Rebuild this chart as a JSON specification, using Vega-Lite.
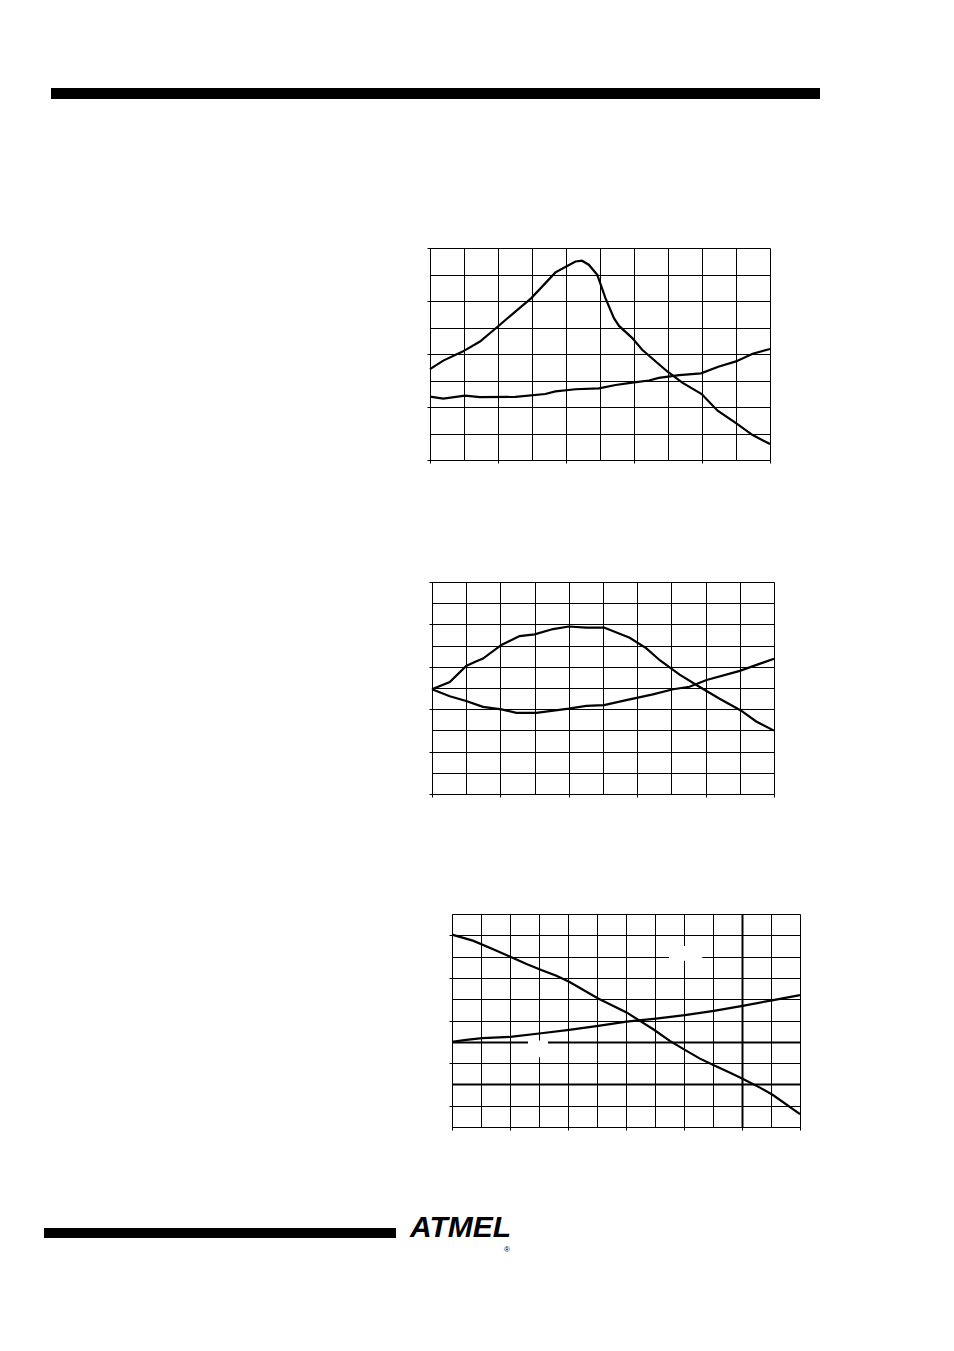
{
  "$schema": "https://vega.github.io/schema/vega-lite/v6.json",
  "padding": 0,
  "background": "white",
  "spacing": 0,
  "config": {
    "view": {"stroke": null},
    "axis": {"labels": false, "grid": true, "gridColor": "black", "gridOpacity": 1, "gridWidth": 1, "domainColor": "black", "domainWidth": 1, "tickColor": "black", "tickSize": 3, "tickWidth": 1}
  },
  "datasets": {
    "c1": [
      {"s": "A", "x": 0, "y": 3.43}, {"s": "A", "x": 0.39, "y": 3.75}, {"s": "A", "x": 0.96, "y": 4.09}, {"s": "A", "x": 1.47, "y": 4.47}, {"s": "A", "x": 1.97, "y": 5.01}, {"s": "A", "x": 2.51, "y": 5.6}, {"s": "A", "x": 2.98, "y": 6.11}, {"s": "A", "x": 3.69, "y": 7.08}, {"s": "A", "x": 3.98, "y": 7.28}, {"s": "A", "x": 4.28, "y": 7.49}, {"s": "A", "x": 4.47, "y": 7.52}, {"s": "A", "x": 4.67, "y": 7.37}, {"s": "A", "x": 4.92, "y": 6.99}, {"s": "A", "x": 5.16, "y": 6.11}, {"s": "A", "x": 5.41, "y": 5.35}, {"s": "A", "x": 5.56, "y": 5.06}, {"s": "A", "x": 5.95, "y": 4.6}, {"s": "A", "x": 6.24, "y": 4.16}, {"s": "A", "x": 6.98, "y": 3.34}, {"s": "A", "x": 7.42, "y": 2.92}, {"s": "A", "x": 7.99, "y": 2.49}, {"s": "A", "x": 8.46, "y": 1.86}, {"s": "A", "x": 9.0, "y": 1.39}, {"s": "A", "x": 9.49, "y": 0.94}, {"s": "A", "x": 10, "y": 0.6},
      {"s": "B", "x": 0, "y": 2.39}, {"s": "B", "x": 0.39, "y": 2.32}, {"s": "B", "x": 1.03, "y": 2.43}, {"s": "B", "x": 1.47, "y": 2.37}, {"s": "B", "x": 2.51, "y": 2.38}, {"s": "B", "x": 3.39, "y": 2.49}, {"s": "B", "x": 3.69, "y": 2.59}, {"s": "B", "x": 4.28, "y": 2.67}, {"s": "B", "x": 4.97, "y": 2.7}, {"s": "B", "x": 5.46, "y": 2.83}, {"s": "B", "x": 5.95, "y": 2.92}, {"s": "B", "x": 6.44, "y": 3.0}, {"s": "B", "x": 6.73, "y": 3.1}, {"s": "B", "x": 7.33, "y": 3.2}, {"s": "B", "x": 7.97, "y": 3.27}, {"s": "B", "x": 8.5, "y": 3.53}, {"s": "B", "x": 9.0, "y": 3.72}, {"s": "B", "x": 9.49, "y": 4.01}, {"s": "B", "x": 10, "y": 4.19}
    ],
    "c2": [
      {"s": "A", "x": 0, "y": 4.94}, {"s": "A", "x": 0.52, "y": 5.28}, {"s": "A", "x": 1.0, "y": 6.04}, {"s": "A", "x": 1.25, "y": 6.23}, {"s": "A", "x": 1.49, "y": 6.39}, {"s": "A", "x": 2.03, "y": 7.03}, {"s": "A", "x": 2.56, "y": 7.45}, {"s": "A", "x": 3.0, "y": 7.53}, {"s": "A", "x": 3.54, "y": 7.78}, {"s": "A", "x": 4.0, "y": 7.9}, {"s": "A", "x": 4.51, "y": 7.85}, {"s": "A", "x": 5.03, "y": 7.85}, {"s": "A", "x": 5.78, "y": 7.37}, {"s": "A", "x": 6.27, "y": 6.87}, {"s": "A", "x": 6.66, "y": 6.31}, {"s": "A", "x": 7.24, "y": 5.63}, {"s": "A", "x": 7.83, "y": 5.05}, {"s": "A", "x": 8.41, "y": 4.49}, {"s": "A", "x": 9.03, "y": 3.94}, {"s": "A", "x": 9.48, "y": 3.42}, {"s": "A", "x": 10, "y": 2.99},
      {"s": "B", "x": 0, "y": 4.94}, {"s": "B", "x": 0.52, "y": 4.61}, {"s": "B", "x": 1.0, "y": 4.39}, {"s": "B", "x": 1.49, "y": 4.11}, {"s": "B", "x": 2.03, "y": 3.99}, {"s": "B", "x": 2.47, "y": 3.83}, {"s": "B", "x": 3.05, "y": 3.83}, {"s": "B", "x": 4.0, "y": 4.03}, {"s": "B", "x": 4.51, "y": 4.16}, {"s": "B", "x": 5.03, "y": 4.19}, {"s": "B", "x": 5.68, "y": 4.43}, {"s": "B", "x": 6.46, "y": 4.7}, {"s": "B", "x": 7.05, "y": 4.94}, {"s": "B", "x": 7.53, "y": 5.06}, {"s": "B", "x": 8.03, "y": 5.38}, {"s": "B", "x": 9.0, "y": 5.81}, {"s": "B", "x": 10, "y": 6.38}
    ],
    "c3": [
      {"s": "A", "x": 0, "y": 9.03}, {"s": "A", "x": 0.72, "y": 8.75}, {"s": "A", "x": 1.42, "y": 8.35}, {"s": "A", "x": 2.01, "y": 7.99}, {"s": "A", "x": 2.57, "y": 7.65}, {"s": "A", "x": 3.08, "y": 7.37}, {"s": "A", "x": 3.6, "y": 7.1}, {"s": "A", "x": 4.04, "y": 6.82}, {"s": "A", "x": 5.04, "y": 6.03}, {"s": "A", "x": 6.02, "y": 5.38}, {"s": "A", "x": 6.48, "y": 4.98}, {"s": "A", "x": 6.94, "y": 4.59}, {"s": "A", "x": 7.51, "y": 4.04}, {"s": "A", "x": 8.03, "y": 3.62}, {"s": "A", "x": 8.55, "y": 3.21}, {"s": "A", "x": 9.03, "y": 2.9}, {"s": "A", "x": 9.59, "y": 2.55}, {"s": "A", "x": 10.02, "y": 2.27}, {"s": "A", "x": 10.62, "y": 1.85}, {"s": "A", "x": 11.08, "y": 1.49}, {"s": "A", "x": 12, "y": 0.6},
      {"s": "B", "x": 0, "y": 4.0}, {"s": "B", "x": 0.49, "y": 4.09}, {"s": "B", "x": 1.04, "y": 4.17}, {"s": "B", "x": 2.01, "y": 4.23}, {"s": "B", "x": 3.08, "y": 4.4}, {"s": "B", "x": 4.04, "y": 4.56}, {"s": "B", "x": 5.04, "y": 4.75}, {"s": "B", "x": 6.02, "y": 4.95}, {"s": "B", "x": 7.03, "y": 5.09}, {"s": "B", "x": 8.03, "y": 5.25}, {"s": "B", "x": 9.03, "y": 5.45}, {"s": "B", "x": 10.02, "y": 5.69}, {"s": "B", "x": 11.08, "y": 5.96}, {"s": "B", "x": 12, "y": 6.19}
    ],
    "gaps3": [
      {"x": 7.48, "x2": 8.63, "y": 7.8, "y2": 8.5},
      {"x": 2.62, "x2": 3.31, "y": 3.27, "y2": 4.06}
    ],
    "logo": [{"t": "ATMEL", "px": 0, "py": 1}],
    "reg": [{"t": "®", "px": 1, "py": 0}]
  },
  "vconcat": [
    {"width": 10, "height": 88, "data": {"values": []}, "mark": "point"},
    {"spacing": 0, "hconcat": [
      {"width": 51, "height": 11, "data": {"values": []}, "mark": "point"},
      {"width": 769, "height": 11, "view": {"fill": "black", "stroke": null}, "data": {"values": []}, "mark": "point"}
    ]},
    {"width": 10, "height": 147.5, "data": {"values": []}, "mark": "point"},
    {"spacing": 0, "hconcat": [
      {"width": 425, "height": 212, "data": {"values": []}, "mark": "point"},
      {
        "width": 340, "height": 212,
        "data": {"name": "c1"},
        "mark": {"type": "line", "color": "black", "strokeWidth": 2.2},
        "encoding": {
          "x": {"field": "x", "type": "quantitative", "scale": {"domain": [0, 10], "nice": false}, "axis": {"title": null, "values": [0,1,2,3,4,5,6,7,8,9,10], "tickOpacity": {"condition": {"test": "datum.value % 2 === 0", "value": 1}, "value": 0}}},
          "y": {"field": "y", "type": "quantitative", "scale": {"domain": [0, 8], "nice": false}, "axis": {"title": null, "values": [0,1,2,3,4,5,6,7,8], "tickOpacity": {"condition": {"test": "datum.value % 2 === 0", "value": 1}, "value": 0}}},
          "detail": {"field": "s"}
        }
      }
    ]},
    {"width": 10, "height": 116.5, "data": {"values": []}, "mark": "point"},
    {"spacing": 0, "hconcat": [
      {"width": 427, "height": 212, "data": {"values": []}, "mark": "point"},
      {
        "width": 342, "height": 212,
        "data": {"name": "c2"},
        "mark": {"type": "line", "color": "black", "strokeWidth": 2.2},
        "encoding": {
          "x": {"field": "x", "type": "quantitative", "scale": {"domain": [0, 10], "nice": false}, "axis": {"title": null, "values": [0,1,2,3,4,5,6,7,8,9,10], "tickOpacity": {"condition": {"test": "datum.value % 2 === 0", "value": 1}, "value": 0}}},
          "y": {"field": "y", "type": "quantitative", "scale": {"domain": [0, 10], "nice": false}, "axis": {"title": null, "values": [0,1,2,3,4,5,6,7,8,9,10], "tickOpacity": {"condition": {"test": "datum.value % 2 === 0", "value": 1}, "value": 0}}},
          "detail": {"field": "s"}
        }
      }
    ]},
    {"width": 10, "height": 115.5, "data": {"values": []}, "mark": "point"},
    {"spacing": 0, "hconcat": [
      {"width": 447, "height": 213, "data": {"values": []}, "mark": "point"},
      {
        "width": 348, "height": 213,
        "encoding": {
          "x": {"type": "quantitative", "scale": {"domain": [0, 12], "nice": false}, "axis": {"title": null, "values": [0,1,2,3,4,5,6,7,8,9,10,11,12], "tickOpacity": {"condition": {"test": "datum.value % 2 === 0", "value": 1}, "value": 0}, "gridWidth": {"condition": {"test": "datum.value === 10", "value": 2}, "value": 1}}},
          "y": {"type": "quantitative", "scale": {"domain": [0, 10], "nice": false}, "axis": {"title": null, "values": [0,1,2,3,4,5,6,7,8,9,10], "tickOpacity": {"condition": {"test": "datum.value % 2 === 1", "value": 1}, "value": 0}, "gridWidth": {"condition": {"test": "datum.value === 4 || datum.value === 2", "value": 2}, "value": 1}}}
        },
        "layer": [
          {
            "data": {"name": "gaps3"},
            "mark": {"type": "rect", "color": "white"},
            "encoding": {
              "x": {"field": "x", "type": "quantitative"},
              "x2": {"field": "x2"},
              "y": {"field": "y", "type": "quantitative"},
              "y2": {"field": "y2"}
            }
          },
          {
            "data": {"name": "c3"},
            "mark": {"type": "line", "color": "black", "strokeWidth": 2.2},
            "encoding": {
              "x": {"field": "x", "type": "quantitative"},
              "y": {"field": "y", "type": "quantitative"},
              "detail": {"field": "s"}
            }
          }
        ]
      }
    ]},
    {"width": 10, "height": 78.5, "data": {"values": []}, "mark": "point"},
    {"spacing": 0, "hconcat": [
      {"width": 44, "height": 48, "data": {"values": []}, "mark": "point"},
      {"spacing": 0, "vconcat": [
        {"width": 352, "height": 18, "data": {"values": []}, "mark": "point"},
        {"width": 352, "height": 10, "view": {"fill": "black", "stroke": null}, "data": {"values": []}, "mark": "point"}
      ]},
      {"width": 14, "height": 48, "data": {"values": []}, "mark": "point"},
      {
        "width": 100, "height": 44,
        "layer": [
          {
            "data": {"name": "logo"},
            "mark": {"type": "text", "font": "Liberation Sans", "fontWeight": "bold", "fontStyle": "italic", "fontSize": 30, "align": "left", "baseline": "top", "color": "black", "dy": 3},
            "encoding": {
              "x": {"field": "px", "type": "quantitative", "scale": {"domain": [0, 1]}, "axis": null},
              "y": {"field": "py", "type": "quantitative", "scale": {"domain": [0, 1]}, "axis": null},
              "text": {"field": "t"}
            }
          },
          {
            "data": {"name": "reg"},
            "mark": {"type": "text", "font": "Liberation Sans", "fontSize": 8, "align": "right", "baseline": "bottom", "color": "black"},
            "encoding": {
              "x": {"field": "px", "type": "quantitative"},
              "y": {"field": "py", "type": "quantitative"},
              "text": {"field": "t"}
            }
          }
        ]
      }
    ]}
  ]
}
